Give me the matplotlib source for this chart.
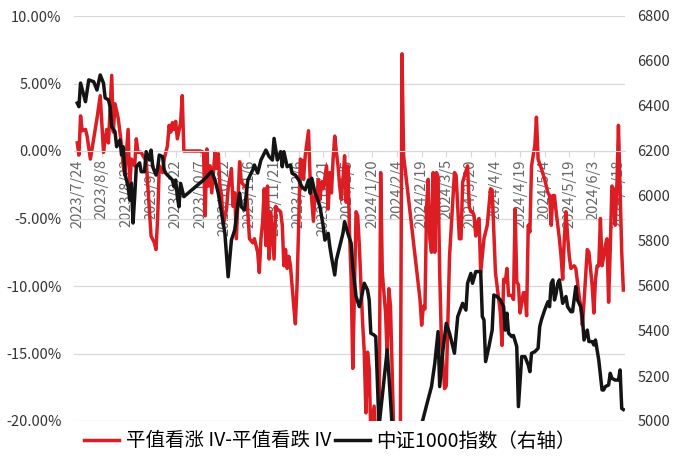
import matplotlib
matplotlib.use("Agg")
import matplotlib.pyplot as plt
import matplotlib.dates as mdates
from matplotlib.ticker import FuncFormatter, FixedLocator
import pandas as pd

plt.rcParams["font.family"] = ["Noto Sans CJK SC", "DejaVu Sans"]

# 平值看涨 IV - 平值看跌 IV (%), left axis
red_dates = [
    "2023-07-24", "2023-07-25", "2023-07-26", "2023-07-27", "2023-07-29", "2023-07-30",
    "2023-08-01", "2023-08-03", "2023-08-05", "2023-08-07", "2023-08-09", "2023-08-10", "2023-08-11",
    "2023-08-12", "2023-08-14", "2023-08-15", "2023-08-16", "2023-08-18", "2023-08-20", "2023-08-21",
    "2023-08-22", "2023-08-24", "2023-08-25", "2023-08-26", "2023-08-28", "2023-08-29", "2023-08-30",
    "2023-09-01", "2023-09-02", "2023-09-04", "2023-09-05", "2023-09-07", "2023-09-09", "2023-09-10",
    "2023-09-11", "2023-09-12", "2023-09-14", "2023-09-15", "2023-09-17", "2023-09-18", "2023-09-19",
    "2023-09-20", "2023-09-21", "2023-09-22", "2023-09-23", "2023-09-25", "2023-09-26", "2023-09-27",
    "2023-10-07", "2023-10-09", "2023-10-10", "2023-10-11", "2023-10-12", "2023-10-13", "2023-10-14",
    "2023-10-16", "2023-10-17", "2023-10-18", "2023-10-19", "2023-10-20", "2023-10-21", "2023-10-23",
    "2023-10-24", "2023-10-26", "2023-10-27", "2023-10-28", "2023-10-29", "2023-10-30", "2023-10-31",
    "2023-11-01", "2023-11-03", "2023-11-04", "2023-11-05", "2023-11-06", "2023-11-08", "2023-11-09",
    "2023-11-11", "2023-11-12", "2023-11-13", "2023-11-14", "2023-11-15", "2023-11-16", "2023-11-17",
    "2023-11-18", "2023-11-19", "2023-11-21", "2023-11-22", "2023-11-23", "2023-11-25", "2023-11-26",
    "2023-11-27", "2023-11-28", "2023-11-29", "2023-11-30",
    "2023-12-01", "2023-12-02", "2023-12-03", "2023-12-04", "2023-12-05", "2023-12-06", "2023-12-07",
    "2023-12-08", "2023-12-09", "2023-12-10", "2023-12-12", "2023-12-13", "2023-12-14", "2023-12-15",
    "2023-12-16", "2023-12-17", "2023-12-18", "2023-12-19", "2023-12-20", "2023-12-21", "2023-12-23",
    "2023-12-24", "2023-12-25", "2023-12-26", "2023-12-27", "2023-12-28", "2023-12-29", "2023-12-30",
    "2023-12-31",
    "2024-01-01", "2024-01-02", "2024-01-03", "2024-01-04", "2024-01-05", "2024-01-06", "2024-01-07",
    "2024-01-08", "2024-01-09", "2024-01-10", "2024-01-11", "2024-01-12", "2024-01-13", "2024-01-14",
    "2024-01-15", "2024-01-16", "2024-01-17", "2024-01-18", "2024-01-19", "2024-01-21", "2024-01-22",
    "2024-01-23", "2024-01-24", "2024-01-25", "2024-01-26", "2024-01-28", "2024-01-29", "2024-01-30",
    "2024-01-31",
    "2024-02-01", "2024-02-02", "2024-02-04", "2024-02-06", "2024-02-07", "2024-02-08", "2024-02-18",
    "2024-02-19", "2024-02-20", "2024-02-21", "2024-02-22", "2024-02-23", "2024-02-24", "2024-02-25",
    "2024-02-26", "2024-02-27", "2024-02-28", "2024-02-29",
    "2024-03-01", "2024-03-02", "2024-03-04", "2024-03-05", "2024-03-07", "2024-03-10", "2024-03-11",
    "2024-03-13", "2024-03-14", "2024-03-15", "2024-03-18", "2024-03-19", "2024-03-20", "2024-03-21",
    "2024-03-22", "2024-03-23", "2024-03-24", "2024-03-25", "2024-03-26", "2024-03-28", "2024-03-30",
    "2024-04-01", "2024-04-02", "2024-04-03", "2024-04-04", "2024-04-06", "2024-04-07", "2024-04-08",
    "2024-04-09", "2024-04-10", "2024-04-11", "2024-04-12", "2024-04-14", "2024-04-15", "2024-04-16",
    "2024-04-17", "2024-04-18", "2024-04-19", "2024-04-20", "2024-04-21", "2024-04-22", "2024-04-23",
    "2024-04-24", "2024-04-25", "2024-04-26", "2024-04-28", "2024-04-29", "2024-04-30",
    "2024-05-02", "2024-05-04", "2024-05-06", "2024-05-07", "2024-05-08", "2024-05-09", "2024-05-10",
    "2024-05-11", "2024-05-13", "2024-05-14", "2024-05-15", "2024-05-16", "2024-05-17", "2024-05-18",
    "2024-05-19", "2024-05-20", "2024-05-22", "2024-05-23", "2024-05-24", "2024-05-25", "2024-05-26",
    "2024-05-27", "2024-05-28", "2024-05-30", "2024-05-31",
    "2024-06-02", "2024-06-03", "2024-06-04", "2024-06-05", "2024-06-06", "2024-06-07", "2024-06-08",
    "2024-06-09", "2024-06-10", "2024-06-11", "2024-06-12", "2024-06-13", "2024-06-14", "2024-06-15",
    "2024-06-16", "2024-06-17", "2024-06-18", "2024-06-19", "2024-06-20", "2024-06-21",
]
red_values = [
    0.6, -0.3, 2.6, 1.5, 1.6, 1.1,
    -0.6, 0.9, 2.4, 4.1, -0.1, 0.9, 1.6, 0.6, 5.6, 1.4, 3.5, 2.4, 0.4, -1.1, -1.8, 1.6, -2.6, -0.6,
    -1.1, 0.9, -0.1,
    -0.1, -0.35, -0.7, -2.6, -6.3, -6.8, -7.3, -5.0, -1.1, -1.6, -0.6, 0.4, 1.9, 1.4, 2.1, 1.6, 2.2,
    0.9, 2.1, 4.1, 0.0,
    0.0, -0.1, -4.8, 0.15, -2.6, -1.1, -3.1, -0.1, -1.3, -0.2, -2.6, -3.3, -5.5, -4.3, -2.8, -1.3,
    -4.1, -3.1, -6.5, -3.6, -0.8,
    -2.3, -2.6, -2.6, -4.5, -6.5, -6.8, -6.5, -7.5, -9.0, -6.5, -5.3, -2.8, -7.0, -2.6, -8.0, -4.5,
    -8.0, -4.1, -4.3, -4.5, -5.5, -8.5, -7.3, -8.7, -7.8,
    -8.5, -10.0, -11.5, -12.8, -10.0, -5.5, -0.6, -0.7, -2.1, -0.35, 1.5, -2.1, -3.6, -5.2, -3.3,
    -3.6, -2.1, -3.6, -2.3, -2.8, -1.1, -4.3, -1.6, -3.1, -0.6, 1.1, -0.1, -1.1, -2.6,
    -3.6, -2.1, -0.35, -3.8, -1.1, -6.0, -9.5, -16.1, -10.5, -4.5, -4.8, -7.0, -10.0, -12.7, -14.9,
    -19.4, -14.9, -16.1, -21.0, -18.9, -21.0, -22.0, -21.5, -1.6, -9.0, -12.0, -15.2, -10.2, -11.5,
    -16.4, -21.0, -22.0, -21.0, 7.2, -0.35, -11.0, -12.9, -11.5, -11.7, -4.1, -2.1, -6.5, -7.5,
    -1.6, -7.5, -1.6, -1.9,
    -9.0, -13.9, -17.6, -17.4, -7.8, -1.6, -1.8, -6.5, -6.5, -2.3, -1.1, -4.1, -4.5, -4.5, -4.8,
    -6.3, -5.3, -5.0, -9.0, -6.5, -5.5,
    -2.8, -2.9, -6.0, -9.0, -11.0, -12.0, -14.4, -9.5, -9.7, -8.7, -10.7, -10.7, -11.0, -4.3, -9.7,
    -9.9, -12.0, -11.3, -10.5, -10.5, -12.2, -5.5, -6.0, -1.1, 0.4, 2.5, -0.6,
    -1.3, -2.1, -3.1, -3.3, -5.5, -3.3, -3.3, -4.5, -6.5, -7.8, -9.5, -6.5, -4.5, -6.3, -7.8, -8.7,
    -8.5, -8.7, -9.7, -10.7, -11.5, -12.9, -11.2, -7.3, -7.5,
    -10.0, -12.0, -9.5, -8.5, -8.5, -5.0, -8.5, -7.8, -7.0, -6.5, -11.2, -7.3, -2.6, -2.8, -5.5,
    -2.9, 1.9, -2.8, -7.5, -10.3,
]

# 中证1000指数, right axis
black_dates = [
    "2023-07-24", "2023-07-25", "2023-07-26", "2023-07-29", "2023-07-31",
    "2023-08-03", "2023-08-05", "2023-08-07", "2023-08-09", "2023-08-10", "2023-08-12", "2023-08-13",
    "2023-08-14", "2023-08-16", "2023-08-17", "2023-08-19", "2023-08-20", "2023-08-21", "2023-08-22",
    "2023-08-24", "2023-08-25", "2023-08-26", "2023-08-27", "2023-08-28", "2023-08-29", "2023-08-31",
    "2023-09-01", "2023-09-03", "2023-09-04", "2023-09-06", "2023-09-07", "2023-09-08", "2023-09-10",
    "2023-09-11", "2023-09-12", "2023-09-14", "2023-09-15", "2023-09-16", "2023-09-17", "2023-09-19",
    "2023-09-20", "2023-09-21", "2023-09-22", "2023-09-23", "2023-09-24", "2023-09-25", "2023-09-27",
    "2023-10-09", "2023-10-11", "2023-10-13", "2023-10-14", "2023-10-16", "2023-10-18", "2023-10-20",
    "2023-10-22", "2023-10-24", "2023-10-26", "2023-10-28", "2023-10-30", "2023-10-31",
    "2023-11-01", "2023-11-03", "2023-11-05", "2023-11-08", "2023-11-09", "2023-11-11", "2023-11-13",
    "2023-11-16", "2023-11-18", "2023-11-20", "2023-11-21", "2023-11-23", "2023-11-25", "2023-11-26",
    "2023-11-27", "2023-11-29",
    "2023-12-01", "2023-12-02", "2023-12-04", "2023-12-06", "2023-12-08", "2023-12-10", "2023-12-12",
    "2023-12-13", "2023-12-14", "2023-12-16", "2023-12-17", "2023-12-19", "2023-12-21", "2023-12-22",
    "2023-12-24", "2023-12-25", "2023-12-26", "2023-12-28", "2023-12-29", "2023-12-31",
    "2024-01-02", "2024-01-03", "2024-01-05", "2024-01-07", "2024-01-08", "2024-01-10", "2024-01-12",
    "2024-01-13", "2024-01-15", "2024-01-17", "2024-01-18", "2024-01-19", "2024-01-21", "2024-01-22",
    "2024-01-24", "2024-01-29",
    "2024-02-01", "2024-02-02", "2024-02-05", "2024-02-08", "2024-02-19", "2024-02-22", "2024-02-25",
    "2024-02-27", "2024-02-29",
    "2024-03-01", "2024-03-03", "2024-03-05", "2024-03-07", "2024-03-10", "2024-03-12", "2024-03-15",
    "2024-03-17", "2024-03-18", "2024-03-20", "2024-03-21", "2024-03-23", "2024-03-26", "2024-03-27",
    "2024-03-28", "2024-03-29", "2024-03-31",
    "2024-04-02", "2024-04-03", "2024-04-05", "2024-04-07", "2024-04-09", "2024-04-10", "2024-04-11",
    "2024-04-12", "2024-04-14", "2024-04-15", "2024-04-17", "2024-04-18", "2024-04-20", "2024-04-22",
    "2024-04-24", "2024-04-25", "2024-04-26", "2024-04-28", "2024-04-30",
    "2024-05-01", "2024-05-02", "2024-05-04", "2024-05-06", "2024-05-07", "2024-05-08", "2024-05-09",
    "2024-05-10", "2024-05-11", "2024-05-12", "2024-05-13", "2024-05-15", "2024-05-17", "2024-05-18",
    "2024-05-20", "2024-05-21", "2024-05-23", "2024-05-24", "2024-05-26", "2024-05-27", "2024-05-28",
    "2024-05-30", "2024-05-31",
    "2024-06-02", "2024-06-03", "2024-06-04", "2024-06-06", "2024-06-08", "2024-06-09", "2024-06-10",
    "2024-06-12", "2024-06-13", "2024-06-14", "2024-06-16", "2024-06-18", "2024-06-19", "2024-06-20",
    "2024-06-21",
]
black_values = [
    6413, 6397, 6502, 6419, 6516,
    6508, 6471, 6538, 6501, 6436, 6427, 6397, 6308, 6286, 6219, 6249, 6182, 6219, 6101, 6041, 5982,
    6056, 5880, 5997, 6130, 6147,
    6108, 6108, 6197, 6160, 6204, 6130, 6093, 6123, 6182, 6175, 6116, 6101, 6093, 6079, 6071, 6041,
    6071, 5997, 5952, 6056, 5997,
    6071, 6086, 6102, 6108, 6071, 6012, 5923, 5834, 5641, 5804, 5849, 5969, 6013,
    5952, 5938, 6071, 6116, 6138, 6102, 6160, 6204, 6175, 6160, 6256, 6160, 6197, 6130, 6197, 6130,
    6138, 6101, 6093, 6071, 6041, 6027, 6071, 6012, 6079, 6012, 5997, 5952, 5864, 5804, 5834, 5775,
    5730, 5649, 5716, 5775,
    5834, 5886, 5834, 5790, 5686, 5553, 5508, 5538, 5612, 5582, 5538, 5390, 5382, 5375, 4975, 5316,
    4980, 4850, 4650, 4850, 4985, 5070, 5153, 5256, 5397,
    5153, 5316, 5434, 5390, 5301, 5464, 5523, 5493, 5612, 5656, 5612, 5664, 5664, 5464, 5449, 5264,
    5330,
    5404, 5560, 5553, 5538, 5508, 5404, 5479, 5390, 5375, 5380, 5330, 5064, 5286, 5286, 5249, 5219,
    5301, 5308, 5323,
    5419, 5449, 5493, 5530, 5508, 5612, 5627, 5538, 5567, 5612, 5627, 5523, 5553, 5508, 5486, 5486,
    5597, 5538, 5508, 5464, 5360, 5404, 5353,
    5353, 5338, 5360, 5271, 5138, 5138, 5153, 5160, 5212, 5190, 5182, 5182, 5227, 5056, 5051,
]

tick_dates = pd.date_range("2023-07-24", "2024-06-18", freq="15D")

RED = "#dc1e24"
BLACK = "#141414"
GRID = "#d9d9d9"

fig = plt.figure(figsize=(6.88, 4.59), dpi=100)
ax = fig.add_axes([74 / 688, 38 / 459, 551 / 688, 405 / 459])

l1, = ax.plot(pd.to_datetime(red_dates), red_values, color=RED, lw=2.5,
              label="平值看涨 IV-平值看跌 IV")
ax2 = ax.twinx()
l2, = ax2.plot(pd.to_datetime(black_dates), black_values, color=BLACK, lw=2.5,
               label="中证1000指数（右轴）")

ax.set_ylim(-20, 10)
ax.set_yticks(range(-20, 11, 5))
ax.yaxis.set_major_formatter(FuncFormatter(lambda v, p: f"{v:.2f}%"))
ax2.set_ylim(5000, 6800)
ax2.set_yticks(range(5000, 6801, 200))

ax.set_xlim(mdates.date2num(pd.Timestamp("2023-07-22")),
            mdates.date2num(pd.Timestamp("2024-06-22")))
ax.xaxis.set_major_locator(FixedLocator(mdates.date2num(tick_dates)))


def date_label(v, pos):
    d = mdates.num2date(v)
    return f"{d.year}/{d.month}/{d.day}"


ax.xaxis.set_major_formatter(FuncFormatter(date_label))

for a in (ax, ax2):
    for s in ("top", "left", "right"):
        a.spines[s].set_visible(False)
ax2.spines["bottom"].set_visible(False)
ax.spines["bottom"].set_position(("data", 0))
ax.spines["bottom"].set_color(GRID)

ax.grid(axis="y", color=GRID, lw=0.9)
ax.set_axisbelow(True)
ax.tick_params(axis="x", length=4, color=GRID, pad=2, labelrotation=90,
               labelsize=10.5, labelcolor="#666666")
ax.tick_params(axis="y", length=0, pad=9, labelsize=10.5, labelcolor="#333333")
ax2.tick_params(axis="y", length=0, pad=9, labelsize=10.5, labelcolor="#333333")

fig.legend([l1, l2], [l1.get_label(), l2.get_label()], loc="center",
           bbox_to_anchor=(330 / 688, 18 / 459), ncol=2, frameon=False, fontsize=14,
           handlelength=1.8, handletextpad=0.35, columnspacing=0.2)

fig.savefig("out.png", dpi=100)
plt.close(fig)
